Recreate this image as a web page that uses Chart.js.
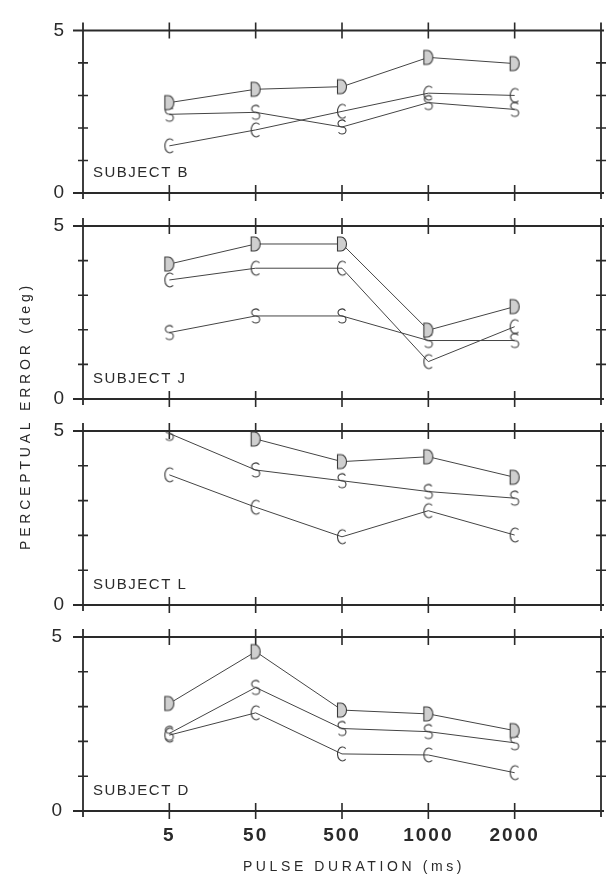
<!DOCTYPE html>
<html>
<head>
<meta charset="utf-8">
<script src="https://cdn.jsdelivr.net/npm/chart.js@4.4.1/dist/chart.umd.min.js"></script>
<style>
  html, body { margin: 0; padding: 0; background: #fff; }
  #wrap { position: relative; width: 609px; height: 875px; }
  #wrap canvas { position: absolute; left: 0; top: 0; }
</style>
</head>
<body>
<div id="wrap">
  <canvas id="panel0" width="609" height="875"></canvas>
  <canvas id="panel1" width="609" height="875"></canvas>
  <canvas id="panel2" width="609" height="875"></canvas>
  <canvas id="panel3" width="609" height="875"></canvas>
</div>
<script>
// pulse durations (ms) along the x axis
const durations = ['5', '50', '500', '1000', '2000'];
const subjects = ['B', 'J', 'L', 'D'];
const yTickLabels = ['0', '5'];

// perceptual error (deg) per condition D, C, S
const subjectB_D = [2.78, 3.19, 3.27, 4.17, 3.98];
const subjectB_C = [1.45, 1.94, 2.51, 3.07, 3.0];
const subjectB_S = [2.42, 2.48, 2.03, 2.78, 2.57];

const subjectJ_D = [3.9, 4.48, 4.48, 1.99, 2.67];
const subjectJ_C = [3.44, 3.78, 3.78, 1.08, 2.09];
const subjectJ_S = [1.92, 2.4, 2.4, 1.69, 1.69];

const subjectL_D = [null, 4.77, 4.12, 4.26, 3.67];
const subjectL_C = [3.74, 2.81, 1.96, 2.71, 2.01];
const subjectL_S = [4.93, 3.88, 3.57, 3.26, 3.07];

const subjectD_D = [3.09, 4.58, 2.9, 2.79, 2.31];
const subjectD_C = [2.18, 2.82, 1.64, 1.61, 1.1];
const subjectD_S = [2.23, 3.55, 2.37, 2.28, 1.96];

const panelSeries = [
    { D: subjectB_D, C: subjectB_C, S: subjectB_S },
    { D: subjectJ_D, C: subjectJ_C, S: subjectJ_S },
    { D: subjectL_D, C: subjectL_C, S: subjectL_S },
    { D: subjectD_D, C: subjectD_C, S: subjectD_S }
];

// panel frame positions on the page
const panelTops = [20, 226, 431, 637];
const panelBottoms = [193, 399, 605, 811];
const PAGE_H = 875;
const INK = '#2a2a2a';

// letter markers
function makeMarker(letter) {
    const c = document.createElement('canvas');
    c.width = 16;
    c.height = 18;
    const g = c.getContext('2d');
    g.strokeStyle = '#3a3a3a';
    g.lineWidth = 1.1;
    g.fillStyle = '#cfcfcf';
    g.beginPath();
    if (letter === 'D') {
        g.moveTo(3.5, 2);
        g.lineTo(7, 2);
        g.ellipse(7, 9, 5.5, 7, 0, -Math.PI / 2, Math.PI / 2);
        g.lineTo(3.5, 16);
        g.closePath();
        g.fill();
        g.stroke();
    } else if (letter === 'C') {
        g.ellipse(8.5, 9, 5, 7, 0, -Math.PI * 0.28, Math.PI * 0.28, true);
        g.stroke();
    } else {
        g.ellipse(8, 5.5, 4, 3.5, 0, -Math.PI / 6, Math.PI / 2, true);
        g.ellipse(8, 12.5, 4, 3.5, 0, -Math.PI / 2, Math.PI * 5 / 6, false);
        g.stroke();
    }
    return c;
}

const markers = { D: makeMarker('D'), C: makeMarker('C'), S: makeMarker('S') };

// frame with cross ticks, like the plotter drawing
const framePlugin = {
    id: 'frame',
    beforeDraw(chart) {
        if (chart.options.isLast) chart.ctx.letterSpacing = '2px';
    },
    beforeDatasetsDraw(chart) {
        const { ctx, chartArea: a, scales: { x, y } } = chart;
        ctx.save();
        ctx.letterSpacing = '0px';
        ctx.strokeStyle = INK;
        ctx.lineWidth = 2;
        ctx.beginPath();
        ctx.moveTo(a.left - 10, a.top);
        ctx.lineTo(a.right + 3, a.top);
        ctx.moveTo(a.left - 10, a.bottom);
        ctx.lineTo(a.right + 3, a.bottom);
        ctx.stroke();

        ctx.lineWidth = 1.8;
        ctx.beginPath();
        [a.left, a.right].forEach(px => {
            ctx.moveTo(px, a.top - 8);
            ctx.lineTo(px, a.bottom + 6);
        });
        ctx.stroke();

        ctx.lineWidth = 1.6;
        ctx.beginPath();
        x.ticks.forEach(t => {
            const px = x.getPixelForValue(t.value);
            [a.top, a.bottom].forEach(py => {
                ctx.moveTo(px, py - 8);
                ctx.lineTo(px, py + 8);
            });
        });
        y.ticks.filter(t => t.value > 0 && t.value < 5).forEach(t => {
            const py = y.getPixelForValue(t.value);
            [a.left, a.right].forEach(px => {
                ctx.moveTo(px - 5, py);
                ctx.lineTo(px + 5, py);
            });
        });
        ctx.stroke();
        ctx.restore();
    },
    afterDraw(chart) {
        const { ctx, chartArea: a } = chart;
        ctx.save();
        ctx.fillStyle = INK;
        ctx.letterSpacing = '1.5px';
        ctx.font = '15px "Liberation Sans", Arial, sans-serif';
        ctx.textBaseline = 'middle';
        ctx.textAlign = 'left';
        ctx.fillText('SUBJECT ' + chart.options.subject, a.left + 10, a.bottom - 20);

        if (chart.options.isLast) {
            ctx.font = '14px "Liberation Sans", Arial, sans-serif';
            ctx.letterSpacing = '3.6px';
            ctx.textAlign = 'center';
            ctx.fillText('PULSE DURATION (ms)', 354, 867);
            ctx.letterSpacing = '3.8px';
            ctx.translate(26, 416);
            ctx.rotate(-Math.PI / 2);
            ctx.fillText('PERCEPTUAL ERROR (deg)', 0, 0);
        }
        ctx.restore();
        ctx.letterSpacing = '0px';
    }
};

function toPoints(values) {
    return values.map((v, k) => ({ x: k, y: v }));
}

function createPanel(i) {
    const isLast = i === subjects.length - 1;
    const series = panelSeries[i];
    const datasets = ['D', 'S', 'C'].map(key => ({
        label: key,
        data: toPoints(series[key]),
        borderColor: '#444',
        borderWidth: 1,
        pointStyle: markers[key],
        pointRadius: 7,
        spanGaps: false
    }));

    new Chart(document.getElementById('panel' + i), {
        type: 'line',
        data: { datasets },
        plugins: [framePlugin],
        options: {
            responsive: false,
            animation: false,
            subject: subjects[i],
            isLast,
            layout: {
                padding: {
                    top: panelTops[i],
                    bottom: isLast ? 0 : PAGE_H - panelBottoms[i],
                    left: 0,
                    right: 6
                }
            },
            plugins: {
                legend: { display: false },
                tooltip: { enabled: false }
            },
            scales: {
                x: {
                    type: 'linear',
                    display: isLast,
                    min: -1,
                    max: 5,
                    afterBuildTicks: s => { s.ticks = durations.map((_, k) => ({ value: k })); },
                    afterFit: s => { s.height = isLast ? PAGE_H - panelBottoms[i] : 0; },
                    grid: { display: false, drawTicks: false },
                    border: { display: false },
                    ticks: {
                        callback: v => durations[v],
                        color: INK,
                        padding: 13,
                        maxRotation: 0,
                        autoSkip: false,
                        font: { family: '"Liberation Sans", Arial, sans-serif', size: 19, weight: 'bold' }
                    }
                },
                y: {
                    min: 0,
                    max: 5,
                    afterFit: s => { s.width = 83; },
                    grid: { display: false, drawTicks: false },
                    border: { display: false },
                    ticks: {
                        stepSize: 1,
                        callback: v => yTickLabels.includes(String(v)) ? String(v) : '',
                        color: INK,
                        padding: 19,
                        font: { family: '"Liberation Sans", Arial, sans-serif', size: 19 }
                    }
                }
            }
        }
    });
}

subjects.forEach((_, i) => createPanel(i));
</script>
</body>
</html>
